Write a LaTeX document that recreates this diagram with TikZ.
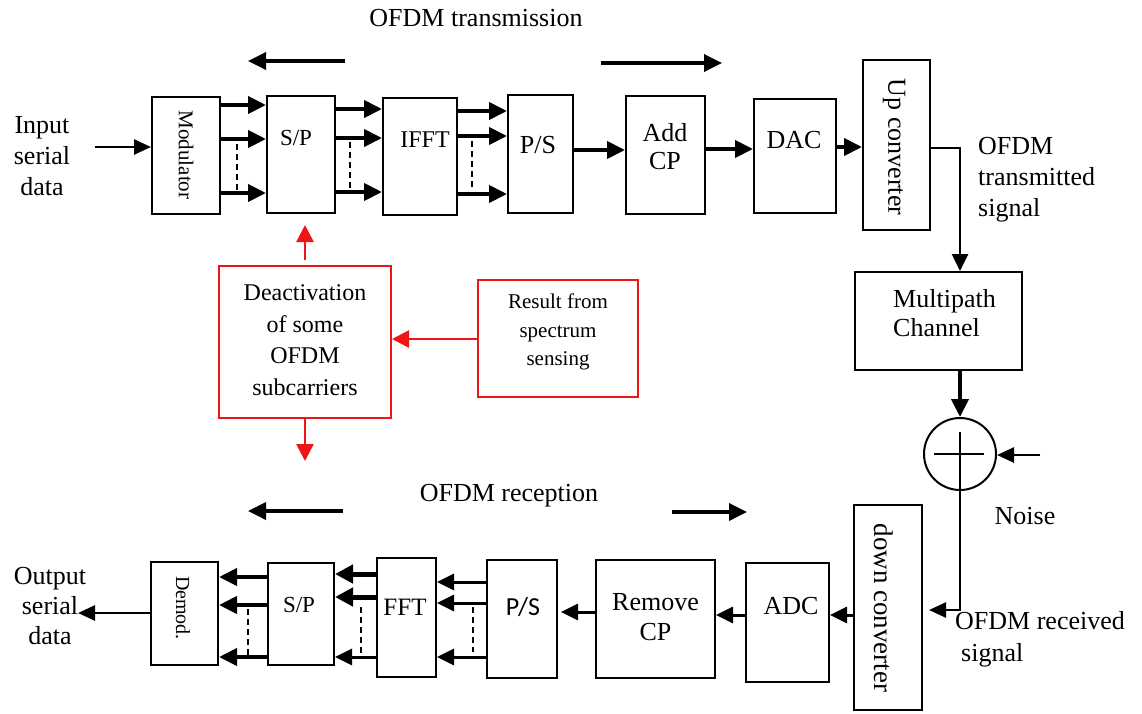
\documentclass[tikz,border=0pt]{standalone}
\usepackage{fontspec}
\setmainfont{Liberation Serif}
\newfontfamily\calfont{Carlito}
\usetikzlibrary{arrows.meta}
\definecolor{sensered}{RGB}{240,20,20}
\begin{document}
\begin{tikzpicture}[x=1pt,y=-1pt,
  box/.style={draw,line width=2pt,inner sep=0pt},
  rbox/.style={draw=sensered,line width=2pt,inner sep=0pt},
  lbl/.style={inner sep=0pt,align=center,font=\fontsize{26}{31}\selectfont},
  flow/.style={line width=4pt,-{Triangle[length=18pt,width=17pt]}},
  midflow/.style={line width=3pt,-{Triangle[length=17pt,width=16pt]}},
  fatflow/.style={line width=5pt,-{Triangle[length=18pt,width=18pt]}},
  thinflow/.style={line width=2.6pt,-{Triangle[length=17pt,width=15pt]}},
  dirarrow/.style={line width=3.5pt,-{Triangle[length=18pt,width=17pt]}},
  redarrow/.style={draw=sensered,line width=2.6pt,-{Triangle[length=17pt,width=17pt]},sensered},
  ellipsisline/.style={line width=1.5pt,dash pattern=on 6pt off 4pt}]
\useasboundingbox (0,0) rectangle (1142,713);

% ---------------- transmitter chain ----------------
\node[lbl] (txtitle) at (476,18) {OFDM transmission};
\coordinate (txLa) at (345,61); \coordinate (txLb) at (248,61);
\coordinate (txRa) at (601,63); \coordinate (txRb) at (722,63);
\draw[dirarrow] (txLa) -- (txLb);
\draw[dirarrow] (txRa) -- (txRb);

\node[lbl] (intext) at (42,156) {Input\\serial\\data};
\coordinate (inL) at (95,147);

\node[box,minimum width=68pt,minimum height=117pt] (mod) at (186,155.5) {};
\node[lbl,rotate=-90,font=\fontsize{21}{25}\selectfont] (modt) at (186,155) {Modulator};

\node[box,minimum width=68pt,minimum height=117pt] (sp1) at (301,154.5) {};
\node[lbl,font=\fontsize{23}{27}\selectfont] (sp1t) at (296,138) {S/P};

\node[box,minimum width=74pt,minimum height=117pt] (ifft) at (420,156.5) {};
\node[lbl,font=\fontsize{24}{28}\selectfont] (ifftt) at (425,140) {IFFT};

\node[box,minimum width=65pt,minimum height=118pt] (ps1) at (540.5,154) {};
\node[lbl] (ps1t) at (538,145) {P/S};

\node[box,minimum width=79pt,minimum height=118pt] (addcp) at (665.5,155) {};
\node[lbl,font=\fontsize{26}{28}\selectfont] (addcpt) at (665,147) {Add\\CP};

\node[box,minimum width=82pt,minimum height=114pt] (dac) at (795,156) {};
\node[lbl] (dact) at (794,140) {DAC};

\node[box,minimum width=67pt,minimum height=170pt] (up) at (896.5,145) {};
\node[lbl,rotate=-90] (upt) at (894,147) {Up converter};

\node[lbl,align=left,anchor=west] (txsig) at (978,180) {OFDM\\transmitted\\signal};

% input and parallel branches
\draw[thinflow] (inL) -- (mod.west |- inL);
\foreach \y in {105,139,193} \draw[flow] (mod.east |- 0,\y) -- (sp1.west |- 0,\y);
\foreach \y in {109,138,192} \draw[flow] (sp1.east |- 0,\y) -- (ifft.west |- 0,\y);
\foreach \y in {111,136,194} \draw[flow] (ifft.east |- 0,\y) -- (ps1.west |- 0,\y);
\draw[ellipsisline] (237,144) -- (237,191);
\draw[ellipsisline] (350,142) -- (350,188);
\draw[ellipsisline] (472,141) -- (472,188);

\draw[flow] (ps1.east |- 0,150) -- (addcp.west |- 0,150);
\draw[flow] (addcp.east |- 0,149) -- (dac.west |- 0,149);
\draw[flow] (dac.east |- 0,147) -- (up.west |- 0,147);

% ---------------- channel ----------------
\node[box,minimum width=167pt,minimum height=98pt] (mp) at (938.5,321) {};
\node[lbl,align=left,anchor=west,font=\fontsize{26}{29}\selectfont] (mpt) at (893,313) {Multipath\\Channel};

\coordinate (upcorner) at (960,148);
\draw[line width=2.6pt,-{Triangle[length=17pt,width=16pt]}]
  (up.east |- upcorner) -- (upcorner) -- (upcorner |- mp.north);

\node[draw,circle,line width=2pt,minimum size=72pt,inner sep=0pt] (sum) at (960,454) {};
\draw[line width=1.6pt] (934,454) -- (984,454);
\draw[line width=1.6pt] (960,432) -- (960,490);
\draw[flow] (mp.south -| sum) -- (sum.north);

\coordinate (noiseR) at (1040,455);
\draw[thinflow] (noiseR) -- (sum.east |- noiseR);
\node[lbl] (noiset) at (1025,516) {Noise};

% ---------------- receiver chain ----------------
\node[box,minimum width=68pt,minimum height=205pt] (down) at (888,607.5) {};
\node[lbl,rotate=-90,font=\fontsize{27}{31}\selectfont] (downt) at (884,608) {down converter};

\coordinate (rxcorner) at (960,610);
\draw[line width=2.6pt,-{Triangle[length=17pt,width=15pt]}]
  (sum.south) -- (rxcorner) -- ([xshift=6pt]down.east |- rxcorner);
\node[lbl,align=left,anchor=west,font=\fontsize{26}{32}\selectfont] (rxsig) at (955,639) {OFDM received\\\hspace*{6pt}signal};

\node[box,minimum width=83pt,minimum height=119pt] (adc) at (787.5,622.5) {};
\node[lbl] (adct) at (791,606) {ADC};

\node[box,minimum width=119pt,minimum height=118pt] (rem) at (655.5,619) {};
\node[lbl,font=\fontsize{26}{30}\selectfont] (remt) at (655.5,617) {Remove\\CP};

\node[box,minimum width=70pt,minimum height=118pt] (ps2) at (522,619) {};
\node[lbl,font=\calfont\fontsize{26}{30}\selectfont] (ps2t) at (523,607) {P/S};

\node[box,minimum width=59pt,minimum height=119pt] (fft) at (406.5,617.5) {};
\node[lbl,font=\fontsize{25}{29}\selectfont] (fftt) at (405,607) {FFT};

\node[box,minimum width=66pt,minimum height=102pt] (sp2) at (301,614) {};
\node[lbl,font=\fontsize{23}{27}\selectfont] (sp2t) at (299,605) {S/P};

\node[box,minimum width=67pt,minimum height=103pt] (demod) at (184.5,613.5) {};
\node[lbl,rotate=-90,font=\fontsize{20}{24}\selectfont] (demodt) at (183,608) {Demod.};

\node[lbl,font=\fontsize{26}{30}\selectfont] (outtext) at (50,606) {Output\\serial\\data};
\coordinate (outL) at (78,613);

\draw[midflow] (down.west |- 0,615) -- (adc.east |- 0,615);
\draw[midflow] (adc.west |- 0,615) -- (rem.east |- 0,615);
\draw[midflow] (rem.west |- 0,612) -- ([xshift=3pt]ps2.east |- 0,612);
\foreach \y in {582,603,657} \draw[midflow] (ps2.west |- 0,\y) -- (fft.east |- 0,\y);
\foreach \y in {574,597} \draw[fatflow] (fft.west |- 0,\y) -- (sp2.east |- 0,\y);
\draw[midflow] (fft.west |- 0,657) -- (sp2.east |- 0,657);
\foreach \y in {577,605,657} \draw[flow] (sp2.west |- 0,\y) -- (demod.east |- 0,\y);
\draw[ellipsisline] (473,607) -- (473,652);
\draw[ellipsisline] (361,607) -- (361,653);
\draw[ellipsisline] (248,609) -- (248,655);
\draw[thinflow] (demod.west |- outL) -- (outL);

\node[lbl] (rxtitle) at (509,496) {OFDM reception};
\coordinate (rxLa) at (343,511); \coordinate (rxLb) at (248,511);
\coordinate (rxRa) at (672,512); \coordinate (rxRb) at (747,512);
\draw[dirarrow] (rxLa) -- (rxLb);
\draw[dirarrow] (rxRa) -- (rxRb);

% ---------------- spectrum-sensing control ----------------
\node[rbox,minimum width=172pt,minimum height=152pt] (deact) at (305,342) {};
\node[lbl,font=\fontsize{24}{31.5}\selectfont] (deactt) at (305,340) {Deactivation\\of some\\OFDM\\subcarriers};

\node[rbox,minimum width=160pt,minimum height=117pt] (res) at (558,338.5) {};
\node[lbl,font=\fontsize{21}{28.5}\selectfont] (rest) at (558,332) {Result from\\spectrum\\sensing};

\coordinate (ctlUp) at (305,225);
\coordinate (ctlDown) at (305,461);
\draw[redarrow] ([yshift=5pt]deact.north) -- (ctlUp);
\draw[redarrow] (deact.south) -- (ctlDown);
\draw[redarrow] (res.west |- 0,339) -- (deact.east |- 0,339);
\end{tikzpicture}
\end{document}
